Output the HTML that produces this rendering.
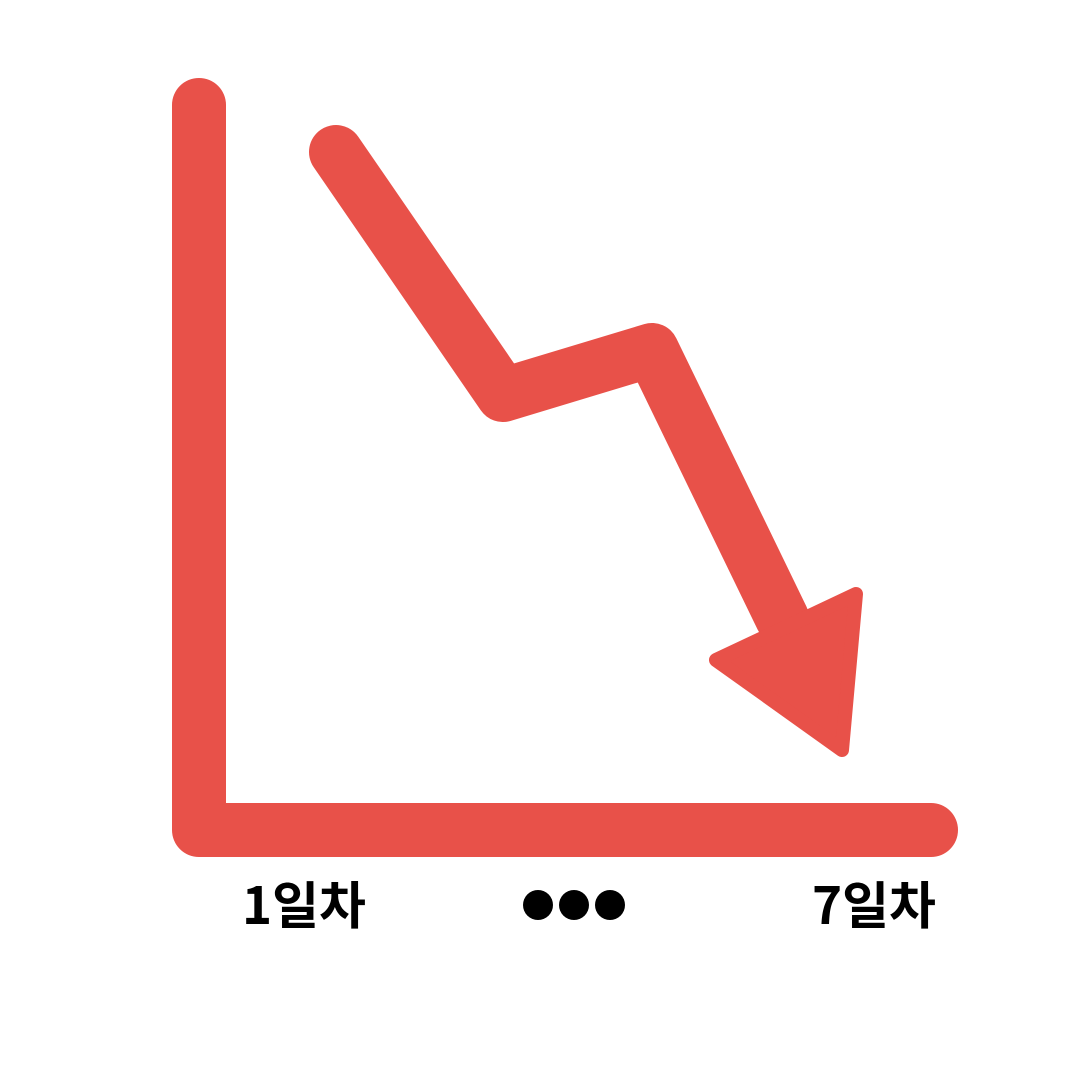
<!DOCTYPE html>
<html>
<head>
<meta charset="utf-8">
<style>
  html,body{margin:0;padding:0;background:#fff;}
  svg{display:block;}
  .lbl{font-family:"Noto Sans CJK KR",sans-serif;font-weight:bold;font-size:51px;fill:#000;}
</style>
</head>
<body>
<svg width="1080" height="1080" viewBox="0 0 1080 1080">
  <rect width="1080" height="1080" fill="#fff"/>
  <polyline points="199,105 199,830 931,830" fill="none" stroke="#E85149" stroke-width="54" stroke-linecap="round" stroke-linejoin="round"/>
  <g id="trend"></g>
  <text class="lbl" x="304" y="924" text-anchor="middle">1일차</text>
  <g>
    <circle cx="538" cy="905" r="15" fill="#000"/>
    <circle cx="574" cy="905" r="15" fill="#000"/>
    <circle cx="610" cy="905" r="15" fill="#000"/>
  </g>
  <text class="lbl" x="874" y="924" text-anchor="middle">7일차</text>
</svg>
<script>
const trendPoints = [[336,152],[503,395],[652,350],[782,618]];
const headPoints = [[716,660],[856,594],[842,750]];
const ns = "http://www.w3.org/2000/svg";
const g = document.getElementById('trend');
const line = document.createElementNS(ns,'polyline');


line.setAttribute('points', trendPoints.map(p=>p.join(',')).join(' '));
line.setAttribute('fill','none');
line.setAttribute('stroke','#E85149');
line.setAttribute('stroke-width','54');
line.setAttribute('stroke-linecap','round');
line.setAttribute('stroke-linejoin','round');
g.appendChild(line);
const head = document.createElementNS(ns,'polygon');


head.setAttribute('points', headPoints.map(p=>p.join(',')).join(' '));
head.setAttribute('fill','#E85149');
head.setAttribute('stroke','#E85149');
head.setAttribute('stroke-width','14');
head.setAttribute('stroke-linejoin','round');
g.appendChild(head);
</script>
</body>
</html>
